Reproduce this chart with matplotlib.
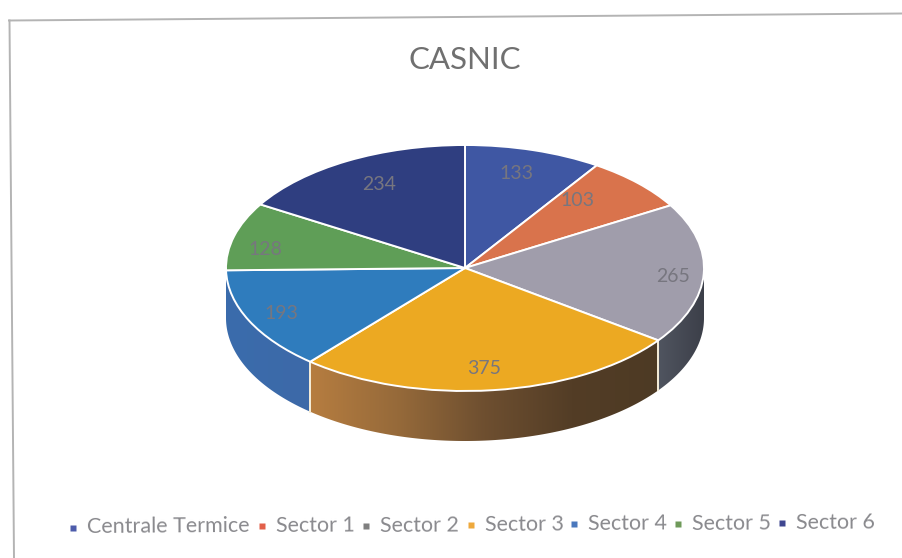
import numpy as np
import matplotlib
matplotlib.use("Agg")
import matplotlib.pyplot as plt
from matplotlib.patches import Polygon
from matplotlib.colors import LinearSegmentedColormap

# ---- data ----
categories = ["Centrale Termice", "Sector 1", "Sector 2", "Sector 3", "Sector 4", "Sector 5", "Sector 6"]
values = [133, 103, 265, 375, 193, 128, 234]
title = "CASNIC"

# ---- styles ----
top_colors = ["#3f57a3", "#d9734c", "#a09dab", "#eca922", "#2f7cbd", "#5f9e57", "#2f3e80"]
legend_colors = ["#4d5cab", "#e2604a", "#7f7f7f", "#eea93c", "#4a78bd", "#6f9a5a", "#3f4690"]
wall_stops = {
    2: ["#505560", "#3c3f49"],
    3: ["#b67d40", "#966a3a", "#6e4f30", "#533d26", "#4d3a24"],
    4: ["#3a6cac", "#3d69a8"],
}
text_grey = "#8a8a8e"

W, H = 902, 558
CX, CY, RX, RY, DEPTH = 465, 268, 239, 123, 50
FONT = "Lato"

fig = plt.figure(figsize=(W / 100, H / 100), dpi=100, facecolor="white")

# pie axes: unit circle squashed into the ellipse of the tilted pie
ax = fig.add_axes([0, 0, 1, 1])
xlim = (-CX / RX, (W - CX) / RX)
ylim = ((CY - H) / RY, CY / RY)
depth = DEPTH / RY

fracs = np.asarray(values, dtype=float) / np.sum(values) * 360
ends = np.cumsum(fracs)
starts = ends - fracs


def wall(i):
    """Side wall of slice i, limited to the front half of the pie."""
    if i not in wall_stops:
        return
    a0, a1 = max(starts[i], 90), min(ends[i] + 1.5, 270)
    if i != 4:
        a1 = min(ends[i], 270)
    t = np.radians(np.linspace(a0, a1, 120))
    x, y = np.sin(t), np.cos(t)
    pts = np.r_[np.c_[x, y], np.c_[x, y - depth][::-1]]
    patch = Polygon(pts, closed=True, facecolor="none", edgecolor="none", zorder=1)
    ax.add_patch(patch)
    cmap = LinearSegmentedColormap.from_list("w", wall_stops[i])
    grad = np.linspace(0, 1, 256).reshape(1, -1)
    im = ax.imshow(grad, cmap=cmap, extent=(x.min(), x.max(), y.min() - depth, y.max()),
                   aspect="auto", zorder=1, interpolation="bilinear")
    im.set_clip_path(patch)
    for a in (a0, a1):
        if 90 < a < 268:
            r = np.radians(a)
            ax.plot([np.sin(r)] * 2, [np.cos(r), np.cos(r) - depth], color="#f4ecd8", lw=1.3, zorder=2)


for i in range(len(values)):
    wall(i)

ax.pie(values, colors=top_colors, startangle=90, counterclock=False, radius=1, center=(0, 0),
       wedgeprops=dict(edgecolor="white", linewidth=1.4, zorder=3))

# value labels: radial placement along each slice, with fine nudges
label_r = [0.78, 0.72, 0.87, 0.82, 0.85, 0.78, 0.85]
label_nudge = [(-0.01, 0.02), (-0.05, 0.05), (0.0, -0.03), (-0.016, 0.0), (0.0, -0.01), (-0.08, -0.05), (0.06, -0.06)]
mids = np.radians((starts + ends) / 2)
for v, m, r, (dx, dy) in zip(values, mids, label_r, label_nudge):
    ax.text(r * np.sin(m) + dx, r * np.cos(m) + dy, str(v), ha="center", va="center",
            fontsize=14, color="#77767f", family=FONT, zorder=5)

ax.set_aspect("auto")
ax.set_xlim(*xlim)
ax.set_ylim(*ylim)
ax.axis("off")

# overlay in pixel units for frame, title and legend
ov = fig.add_axes([0, 0, 1, 1], facecolor="none")
ov.set_xlim(0, W)
ov.set_ylim(H, 0)
ov.axis("off")
ov.plot([9, 902], [20.5, 13.5], color="#b4b4b4", lw=1.4)
ov.plot([9.5, 14], [20.5, 558], color="#b4b4b4", lw=1.4)
ov.text(465, 60, title, ha="center", va="center", fontsize=22.5, color="#707070", family=FONT)

marker_x = [73, 262, 366, 471, 574, 678, 782]
text_x = [87, 276, 380, 485, 588, 692, 796]
for name, c, mx, tx in zip(categories, legend_colors, marker_x, text_x):
    y = 527.5 - (tx - 87) * 0.0065
    ov.plot([mx], [y], marker="s", ms=4.2, color=c, mec="none")
    ov.text(tx, y, name, ha="left", va="center", fontsize=15.5, color=text_grey, family=FONT, rotation=0.4,
            rotation_mode="anchor")

fig.savefig("out.png", dpi=100, facecolor="white")
